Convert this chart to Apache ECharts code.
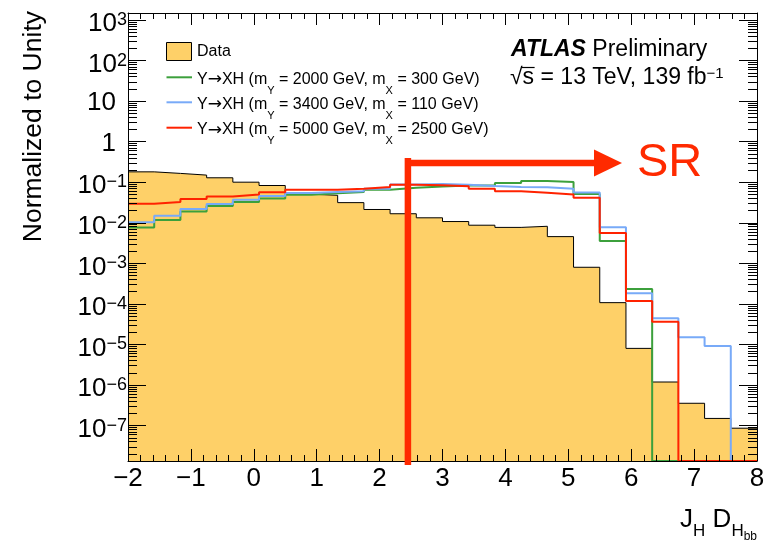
<!DOCTYPE html>
<html>
<head>
<meta charset="utf-8">
<script src="https://cdn.jsdelivr.net/npm/echarts@6/dist/echarts.min.js"></script>
<style>
html,body{margin:0;padding:0;background:#ffffff;}
#chart{width:768px;height:542px;}
</style>
</head>
<body>
<div id="chart"></div>
<script>
// ---------------- DATA ----------------
const X_MIN = -2, X_MAX = 8, N_BINS = 24;
const Y_MIN = 1.32e-8, Y_MAX = 1470;
const xTickValues = [-2, -1, 0, 1, 2, 3, 4, 5, 6, 7, 8];
const xTickLabels = ['\u22122', '\u22121', '0', '1', '2', '3', '4', '5', '6', '7', '8'];
const yDecades = [-7, -6, -5, -4, -3, -2, -1, 0, 1, 2, 3];
const yTickLabels = ['10|\u22127', '10|\u22126', '10|\u22125', '10|\u22124', '10|\u22123', '10|\u22122', '10|\u22121', '1|', '10|', '10|2', '10|3'];

const dataValues = [0.178, 0.163, 0.148, 0.127, 0.099, 0.082, 0.050, 0.047, 0.031, 0.021, 0.0165, 0.0131,
                    0.0106, 0.0086, 0.0076, 0.0081, 0.0045, 0.00079, 1.06e-4, 7.9e-6, 1.17e-6, 3.5e-7, 1.48e-7, 8.5e-8];
const sigGreen = [0.0076, 0.0115, 0.0188, 0.0255, 0.032, 0.039, 0.0486, 0.053, 0.0566, 0.0645, 0.072, 0.078,
                  0.082, 0.082, 0.094, 0.106, 0.100, 0.0505, 0.0035, 2.3e-4, 0, 0, 0, 0];
const sigBlue = [0.0102, 0.0147, 0.0217, 0.0285, 0.0365, 0.045, 0.0535, 0.0566, 0.059, 0.068, 0.087, 0.089,
                 0.086, 0.080, 0.075, 0.074, 0.068, 0.0555, 0.0077, 1.8e-4, 4.4e-5, 1.48e-5, 9.1e-6, 0];
const sigRed = [0.029, 0.032, 0.038, 0.044, 0.049, 0.056, 0.064, 0.064, 0.068, 0.075, 0.085, 0.083,
                0.079, 0.068, 0.059, 0.0545, 0.049, 0.041, 0.0055, 1.16e-4, 3.6e-5, 0, 0, 0];

const legendMY = ['2000', '3400', '5000'];
const legendMX = ['300', '110', '2500'];
const cutValue = 2.45;

// ---------------- STYLE ----------------
const FONT = '"Liberation Sans", Arial, Helvetica, sans-serif';
const C_FILL = '#fed068', C_GREEN = '#3ca03c', C_BLUE = '#78aaf8', C_RED = '#ff2200', C_SR = '#ff2a00';

const chart = echarts.init(document.getElementById('chart'), null, {renderer: 'canvas', width: 768, height: 542});
const binW = (X_MAX - X_MIN) / N_BINS;
function histPoints(vals) {
  const f = v => (v > 0 ? v : Y_MIN);
  const pts = vals.map((v, i) => [X_MIN + i * binW, f(v)]);
  pts.push([X_MAX, f(vals[vals.length - 1])]);
  return pts;
}

// log-axis tick values (decades and 2..9 subdivisions)
const yTickData = [];
for (let e = -8; e <= 3; e++) {
  for (let m = 1; m <= 9; m++) {
    const v = m * Math.pow(10, e);
    if (v <= Y_MIN * 1.0001 || v >= Y_MAX) continue;
    yTickData.push([X_MIN, v, m === 1 ? 18 : 9]);
  }
}

function xAxisCfg(pos, showLabel) {
  return {
    type: 'value', min: X_MIN, max: X_MAX, interval: 1, position: pos, z: 10,
    axisLine: {show: true, onZero: false, lineStyle: {color: '#000', width: 1}},
    axisTick: {show: true, inside: true, length: 12, lineStyle: {color: '#000', width: 1}},
    minorTick: {show: true, splitNumber: 5, length: 6, lineStyle: {color: '#000', width: 1}},
    splitLine: {show: false}, minorSplitLine: {show: false},
    axisLabel: {
      show: showLabel, margin: 5, fontSize: 26, fontFamily: FONT, color: '#000',
      showMinLabel: true, showMaxLabel: true,
      formatter: v => { const i = xTickValues.indexOf(Math.round(v)); return i >= 0 ? xTickLabels[i] : ''; }
    }
  };
}
function yAxisCfg(pos) {
  return {
    type: 'log', logBase: 10, min: Y_MIN, max: Y_MAX, position: pos, z: 10,
    axisLine: {show: true, onZero: false, lineStyle: {color: '#000', width: 1}},
    axisTick: {show: false}, axisLabel: {show: false}, splitLine: {show: false}
  };
}
function lineSeries(name, vals, color) {
  return {
    type: 'line', name: name, data: histPoints(vals), step: 'end', symbol: 'none', showSymbol: false,
    xAxisIndex: 0, yAxisIndex: 0, clip: true,
    lineStyle: {color: color, width: 2}, z: 3
  };
}

const option = {
  animation: false,
  backgroundColor: '#ffffff',
  grid: {left: 128, right: 11, top: 13, bottom: 81, containLabel: false},
  xAxis: [xAxisCfg('bottom', true), xAxisCfg('top', false)],
  yAxis: [yAxisCfg('left'), yAxisCfg('right')],
  series: [
    {
      type: 'line', name: 'Data', data: histPoints(dataValues), step: 'end', symbol: 'none', showSymbol: false,
      xAxisIndex: 0, yAxisIndex: 0, clip: true,
      lineStyle: {color: '#000', width: 1},
      areaStyle: {color: C_FILL, opacity: 1, origin: 'start'}, z: 2
    },
    lineSeries('green', sigGreen, C_GREEN),
    lineSeries('blue', sigBlue, C_BLUE),
    lineSeries('red', sigRed, C_RED),
    {
      type: 'custom', name: 'yticks', coordinateSystem: 'cartesian2d', xAxisIndex: 0, yAxisIndex: 0,
      data: yTickData, encode: {x: 0, y: 1}, clip: false, silent: true, z: 20,
      renderItem: function (params, api) {
        const v = api.value(1), len = api.value(2);
        const p = api.coord([X_MIN, v]);
        const q = api.coord([X_MAX, v]);
        const y = Math.round(p[1]) + 0.5;
        const xa = Math.round(p[0]), xb = Math.round(q[0]);
        return {
          type: 'group', children: [
            {type: 'line', shape: {x1: xa, y1: y, x2: xa + len, y2: y}, style: {stroke: '#000', lineWidth: 1}},
            {type: 'line', shape: {x1: xb - len, y1: y, x2: xb, y2: y}, style: {stroke: '#000', lineWidth: 1}}
          ]
        };
      }
    }
  ]
};
chart.setOption(option);

// ---------------- Annotations (positions through the chart's own scales) ----------------
const px = v => chart.convertToPixel({xAxisIndex: 0}, v);
const py = v => chart.convertToPixel({yAxisIndex: 0}, v);
const mctx = document.createElement('canvas').getContext('2d');
function tw(text, size, pre) { mctx.font = (pre ? pre + ' ' : '') + size + 'px ' + FONT; return mctx.measureText(text).width; }
const g = [];
const RICH_DY = 4; // rich-text vertical correction
// y-axis labels
yDecades.forEach((e, i) => {
  const y = py(Math.pow(10, e));
  const parts = yTickLabels[i].split('|');
  if (parts[1] === '') {
    g.push({type: 'text', silent: true, z: 100, x: 116, y: y + 2,
      style: {text: parts[0], fontSize: 26, fontFamily: FONT, fill: '#000', align: 'right', verticalAlign: 'middle'}});
  } else {
    g.push({type: 'text', silent: true, z: 100, x: 127, y: y - 12.7 + RICH_DY,
      style: {text: '{b|' + parts[0] + '}{p|' + parts[1] + '}', align: 'right', verticalAlign: 'top', fill: '#000',
        rich: {
          b: {fontSize: 26, fontFamily: FONT, lineHeight: 30, verticalAlign: 'top', fill: '#000'},
          p: {fontSize: 18, fontFamily: FONT, lineHeight: 18, verticalAlign: 'top', fill: '#000'}
        }}});
  }
});
// y-axis title
g.push({type: 'text', silent: true, z: 100, x: 34, y: 11, rotation: Math.PI / 2,
  style: {text: 'Normalized to Unity', fontSize: 26.5, fontFamily: FONT, fill: '#000', align: 'right', verticalAlign: 'middle'}});
// x-axis title J_H D_{H_bb}
g.push({type: 'text', silent: true, z: 100, x: 757, y: 504 + 3,
  style: {text: '{m|J}{s|H}{m| D}{s|H}{ss|bb}', align: 'right', verticalAlign: 'top', fill: '#000',
    rich: {
      m: {fontSize: 26, fontFamily: FONT, lineHeight: 30, verticalAlign: 'top', fill: '#000'},
      s: {fontSize: 17, fontFamily: FONT, lineHeight: 17, verticalAlign: 'top', padding: [16, 0, 0, 0], fill: '#000'},
      ss: {fontSize: 12, fontFamily: FONT, lineHeight: 12, verticalAlign: 'top', padding: [24, 0, 0, 0], fill: '#000'}
    }}});
// Legend
g.push({type: 'rect', silent: true, z: 100, shape: {x: 166.5, y: 42.5, width: 25, height: 18},
  style: {fill: C_FILL, stroke: '#000', lineWidth: 1}});
g.push({type: 'text', silent: true, z: 100, x: 197, y: 52,
  style: {text: 'Data', fontSize: 16, fontFamily: FONT, fill: '#000', align: 'left', verticalAlign: 'middle'}});
const legRows = [77.3, 102.3, 127.7];
const legColors = [C_GREEN, C_BLUE, C_RED];
legRows.forEach((ry, i) => {
  g.push({type: 'line', silent: true, z: 100, shape: {x1: 166.5, y1: ry, x2: 192, y2: ry}, style: {stroke: legColors[i], lineWidth: 2}});
  g.push({type: 'text', silent: true, z: 100, x: 197, y: ry - 9.8 + RICH_DY,
    style: {text: '{t|Y}{ar|\u2192}{t|XH (m}{s|Y}{t| = ' + legendMY[i] + ' GeV, m}{s|X}{t| = ' + legendMX[i] + ' GeV)}',
      align: 'left', verticalAlign: 'top', fill: '#000',
      rich: {
        t: {fontSize: 16, fontFamily: FONT, lineHeight: 20, verticalAlign: 'top', fill: '#000'},
        ar: {fontSize: 17, fontFamily: '"DejaVu Sans"', lineHeight: 20, verticalAlign: 'top', fill: '#000'},
        s: {fontSize: 11, fontFamily: FONT, lineHeight: 11, verticalAlign: 'top', padding: [14, 0, 0, 0], fill: '#000'}
      }}});
});
// ATLAS label
g.push({type: 'text', silent: true, z: 100, x: 511, y: 47.5 + 2.5,
  style: {text: '{a|ATLAS}{b| Preliminary}', align: 'left', verticalAlign: 'middle', fill: '#000',
    rich: {
      a: {fontSize: 23, fontFamily: FONT, fontWeight: 'bold', fontStyle: 'italic', fill: '#000'},
      b: {fontSize: 23, fontFamily: FONT, fill: '#000'}
    }}});
const L2X = 510, L2Y = 63 + 3.5;
g.push({type: 'text', silent: true, z: 100, x: L2X, y: L2Y,
  style: {text: '{b|\u221As = 13 TeV, 139 fb}{p|\u22121}', align: 'left', verticalAlign: 'top', fill: '#000',
    rich: {
      b: {fontSize: 23, fontFamily: FONT, lineHeight: 26, verticalAlign: 'top', fill: '#000'},
      p: {fontSize: 15, fontFamily: FONT, lineHeight: 15, verticalAlign: 'top', fill: '#000'}
    }}});
// overline of the square root
const sqW = tw('\u221A', 23), sW = tw('s', 23);
g.push({type: 'line', silent: true, z: 100, shape: {x1: L2X + sqW - 1, y1: 67.5, x2: L2X + sqW + sW + 0.5, y2: 67.5},
  style: {stroke: '#000', lineWidth: 1.2}});
// SR arrow
const cx = px(cutValue);
g.push({type: 'rect', silent: true, z: 110, shape: {x: cx - 3.25, y: 158, width: 6.5, height: 307}, style: {fill: C_SR}});
g.push({type: 'rect', silent: true, z: 110, shape: {x: cx, y: 159.7, width: 596 - cx, height: 6.5}, style: {fill: C_SR}});
g.push({type: 'polygon', silent: true, z: 110, shape: {points: [[594, 149.5], [622, 163], [594, 176.5]]}, style: {fill: C_SR}});
g.push({type: 'text', silent: true, z: 110, x: 637, y: 163,
  style: {text: 'SR', fontSize: 47, fontFamily: FONT, fill: C_SR, align: 'left', verticalAlign: 'middle'}});

chart.setOption({graphic: {elements: g}});
</script>
</body>
</html>
